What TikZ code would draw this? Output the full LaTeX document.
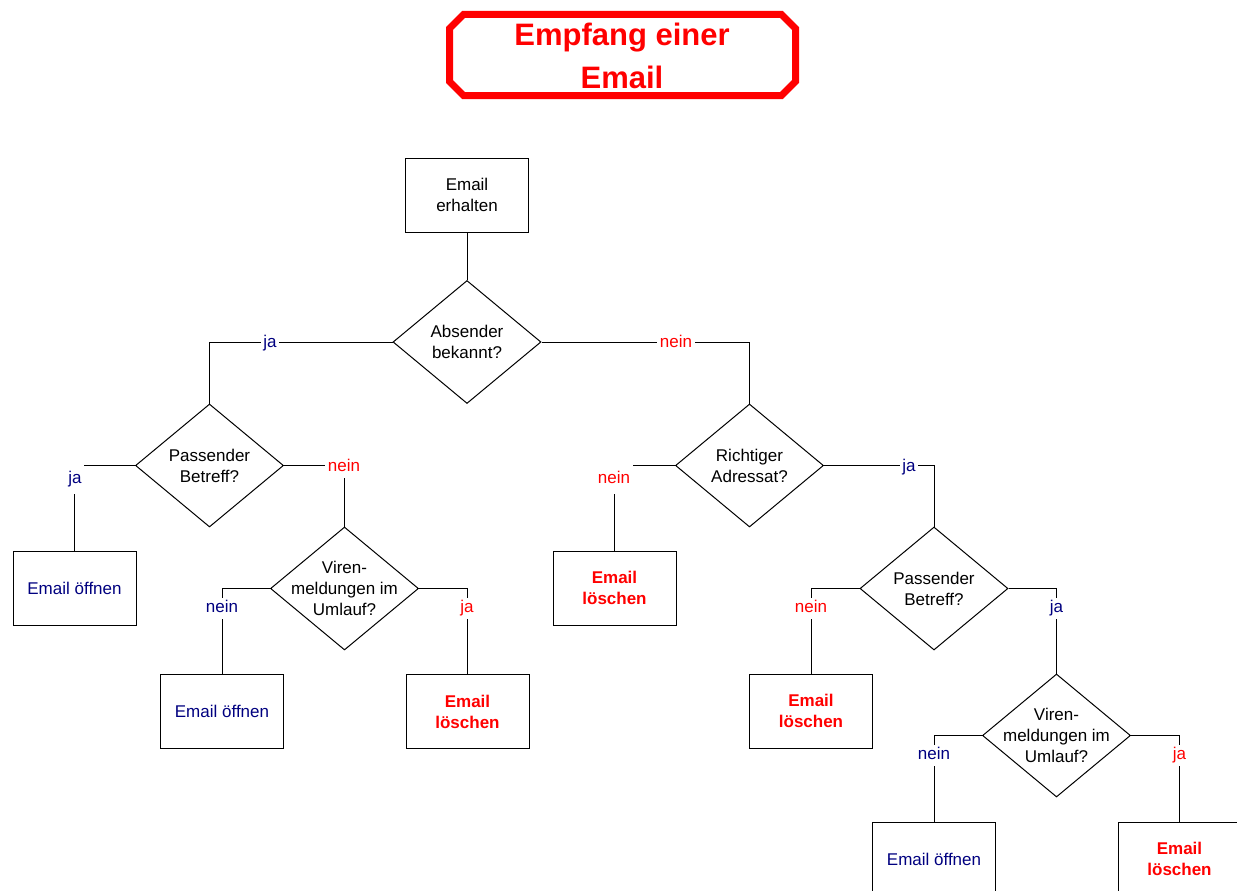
\documentclass[tikz,border=0pt]{standalone}
\usepackage{fontspec}
\setmainfont{Liberation Sans}
\usetikzlibrary{shapes.geometric}
\definecolor{navyblue}{RGB}{0,0,128}
\definecolor{purered}{RGB}{255,0,0}
\begin{document}
\begin{tikzpicture}[x=1pt,y=-1pt,
  every node/.style={font=\fontsize{17pt}{21pt}\selectfont},
  procbox/.style={draw, line width=1pt, minimum width=123pt, minimum height=74pt, inner sep=0pt, align=center},
  decision/.style={draw, diamond, line width=1pt, minimum width=148pt, minimum height=123pt, inner sep=0pt},
  conn/.style={line width=1pt},
  lab/.style={fill=white, inner sep=2.5pt, text height=12pt, text depth=4pt, yshift=-1.5pt},
  labtall/.style={lab, minimum height=29pt},
  bluetxt/.style={text=navyblue},
  redtxt/.style={text=purered},
  deltxt/.style={text=purered, font=\fontsize{17pt}{21pt}\selectfont\bfseries},
  titletxt/.style={text=purered, align=center, font=\fontsize{31pt}{43pt}\selectfont\bfseries}
]
\clip (0,0) rectangle (1237,891);
\fill[white] (0,0) rectangle (1237,891);

% title
\draw[purered, line width=7pt, line join=miter]
  (463.5,14.5) -- (781.5,14.5) -- (795.5,28.5) -- (795.5,81.5) -- (781.5,95.5)
  -- (463.5,95.5) -- (449.5,81.5) -- (449.5,28.5) -- cycle;
\node[titletxt] (title) at (622,56) {Empfang einer\\Email};

% nodes
\node[procbox] (start) at (467,195) {Email\\erhalten};
\node[decision, label={[align=center]center:Absender\\bekannt?}] (d1) at (467,342) {};
\node[decision, label={[align=center]center:Passender\\Betreff?}] (d2) at (209.5,465.5) {};
\node[decision, label={[align=center]center:Richtiger\\Adressat?}] (d3) at (749.5,465.5) {};
\node[decision, label={[align=center]center:Viren-\\meldungen im\\Umlauf?}] (d4) at (344.5,588.5) {};
\node[decision, label={[align=center]center:Passender\\Betreff?}] (d5) at (934,588.5) {};
\node[decision, label={[align=center]center:Viren-\\meldungen im\\Umlauf?}] (d6) at (1056.5,735.5) {};

\node[procbox, bluetxt] (b1) at (74.5,588) {Email öffnen};
\node[procbox, bluetxt] (b2) at (222,711.5) {Email öffnen};
\node[procbox, deltxt] (b3) at (467.5,711.5) {Email\\löschen};
\node[procbox, deltxt] (b4) at (614.5,588) {Email\\löschen};
\node[procbox, deltxt] (b5) at (811,711) {Email\\löschen};
\node[procbox, bluetxt] (b6) at (934,859) {Email öffnen};
\node[procbox, deltxt] (b7) at (1179.5,859) {Email\\löschen};

% connectors
\draw[conn] (start.south) -- (d1.north);
\draw[conn] (d1.west) -| (d2.north);
\draw[conn] (d1.east) -| (d3.north);
\draw[conn] (d2.west) -| (b1.north);
\draw[conn] (d2.east) -| (d4.north);
\draw[conn] (d4.west) -| (b2.north);
\draw[conn] (d4.east) -| (b3.north);
\draw[conn] (d3.west) -| (b4.north);
\draw[conn] (d3.east) -| (d5.north);
\draw[conn] (d5.west) -| (b5.north);
\draw[conn] (d5.east) -| (d6.north);
\draw[conn] (d6.west) -| (b6.north);
\draw[conn] (d6.east) -| (b7.north);

% branch labels
\node[lab, bluetxt] (l1) at (270,342) {ja};
\node[lab, redtxt] (l2) at (676,342) {nein};
\node[labtall, bluetxt] (l3) at (75,478) {ja};
\node[lab, redtxt] (l4) at (344,466) {nein};
\node[lab, bluetxt] (l5) at (222,607) {nein};
\node[lab, redtxt] (l6) at (467,607) {ja};
\node[labtall, redtxt] (l7) at (614,478) {nein};
\node[lab, bluetxt] (l8) at (909,466) {ja};
\node[lab, redtxt] (l9) at (811,607) {nein};
\node[lab, bluetxt] (l10) at (1056.5,607) {ja};
\node[lab, bluetxt] (l11) at (934,754) {nein};
\node[lab, redtxt] (l12) at (1179.5,754) {ja};
\end{tikzpicture}
\end{document}
